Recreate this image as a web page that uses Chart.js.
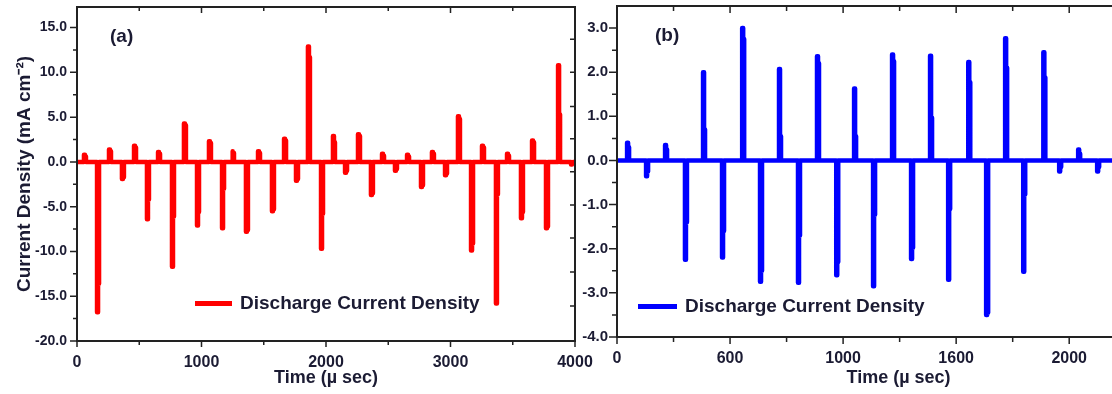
<!DOCTYPE html>
<html>
<head>
<meta charset="utf-8">
<script src="https://cdn.jsdelivr.net/npm/chart.js@4.4.1/dist/chart.umd.min.js"></script>
<style>
  html, body { margin: 0; padding: 0; width: 1112px; height: 394px; overflow: hidden; background: #fff; }
  body { position: relative; font-family: "Liberation Sans", Arial, sans-serif; }
  canvas { position: absolute; top: 0; }
  #chartA { left: 0; }
  #chartB { left: 580px; }
  .tag { position: absolute; font-weight: bold; font-size: 19px; line-height: 22px; color: #1b1b33; }
  .legend { position: absolute; display: flex; align-items: center; font-weight: bold; font-size: 19px; line-height: 22px; color: #1b1b33; white-space: nowrap; }
  .legend .swatch { display: inline-block; height: 5px; margin-right: 8px; }
</style>
</head>
<body>
<canvas id="chartA" width="600" height="394"></canvas>
<canvas id="chartB" width="640" height="394"></canvas>

<div class="tag" style="left:110px; top:25px;">(a)</div>
<div class="tag" style="left:655px; top:24px;">(b)</div>

<div class="legend" style="left:195px; top:292px;">
  <span class="swatch" style="width:37px; background:#ff0000;"></span>Discharge Current Density
</div>
<div class="legend" style="left:638px; top:295px;">
  <span class="swatch" style="width:39px; background:#0000ff;"></span>Discharge Current Density
</div>

<script>
// ---- panel (a) : spikes (time in µs, value in mA cm-2) ----
const upTimesA = [64, 265, 466, 659, 867, 1068, 1253, 1462, 1671, 1863, 2064, 2265, 2458, 2659, 2859, 3068, 3261, 3462, 3663, 3872];
const upPeaksA = [0.8, 1.4, 1.8, 1.1, 4.3, 2.3, 1.2, 1.2, 2.6, 12.9, 2.9, 3.1, 0.9, 0.8, 1.1, 5.1, 1.8, 0.9, 2.4, 10.8];
const upStepsA = [0.6, 1.2, 1.6, 0.9, 4.1, 2.1, 1.0, 1.0, 2.4, 11.7, 2.2, 2.9, 0.7, 0.6, 0.9, 4.8, 1.6, 0.7, 2.2, 5.3];
const downTimesA = [169, 369, 570, 771, 972, 1173, 1365, 1574, 1767, 1968, 2161, 2369, 2562, 2771, 2964, 3173, 3373, 3574, 3775, 3976];
const downPeaksA = [-16.8, -1.9, -6.4, -11.7, -7.1, -7.4, -7.8, -5.5, -2.1, -9.7, -1.2, -3.7, -1.0, -2.8, -1.5, -9.9, -15.8, -6.3, -7.4, -0.3];
const downStepsA = [-13.6, -1.7, -4.2, -6.1, -5.6, -3.0, -7.6, -5.3, -1.9, -5.8, -1.0, -3.5, -0.8, -2.6, -1.3, -9.1, -3.6, -5.6, -7.2, -0.2];

const xTicksA = [0, 1000, 2000, 3000, 4000];
const xMinorA = [500, 1500, 2500, 3500];
const yTicksA = [-20, -15, -10, -5, 0, 5, 10, 15];
const yMinorA = [-17.5, -12.5, -7.5, -2.5, 2.5, 7.5, 12.5];
const yRightA = [13.7, 10, 6.2, 2.6, -1.1, -4.8, -8.5, -12.3, -16.1];

// ---- panel (b) ----
const upTimesB = [49, 217, 385, 558, 721, 889, 1053, 1221, 1389, 1558, 1721, 1890, 2044];
const upPeaksB = [0.4, 0.35, 2.0, 3.0, 2.07, 2.36, 1.63, 2.4, 2.37, 2.23, 2.77, 2.45, 0.25];
const upStepsB = [0.3, 0.25, 0.7, 2.75, 0.55, 2.2, 0.55, 2.25, 0.97, 1.77, 2.1, 1.88, 0.15];
const downTimesB = [133, 305, 469, 637, 805, 974, 1137, 1305, 1469, 1637, 1801, 1960, 2128];
const downPeaksB = [-0.36, -2.25, -2.2, -2.75, -2.77, -2.6, -2.85, -2.23, -2.7, -3.5, -2.52, -0.25, -0.25];
const downStepsB = [-0.25, -1.4, -1.6, -2.5, -1.7, -2.3, -1.23, -1.98, -1.1, -3.45, -0.77, -0.15, -0.15];

const xTicksB = [0, 500, 1000, 1500, 2000];
const xLabelsB = ["0", "600", "1000", "1600", "2000"];
const xMinorB = [250, 750, 1250, 1750, 2250];
const yTicksB = [-4, -3, -2, -1, 0, 1, 2, 3];
const yMinorB = [-3.5, -2.5, -1.5, -0.5, 0.5, 1.5, 2.5];

const INK = "#1b1b33";
const FRAME = "#222222";

// line through the zero baseline with a narrow spike at each event
function buildSeries(times, peaks, steps, halfWidth, tEnd) {
  const spikes = times.map((t, i) => ({ t: t, peak: peaks[i], step: steps[i] }));
  spikes.sort((p, q) => p.t - q.t);
  const pts = [{ x: 0, y: 0 }];
  spikes.forEach((s) => {
    pts.push({ x: s.t - halfWidth, y: 0 });
    pts.push({ x: s.t - halfWidth, y: s.peak });
    pts.push({ x: s.t, y: s.peak });
    pts.push({ x: s.t, y: s.step });
    pts.push({ x: s.t + halfWidth, y: s.step });
    pts.push({ x: s.t + halfWidth, y: 0 });
  });
  pts.push({ x: tEnd, y: 0 });
  return pts;
}

// box frame + tick marks (outward on left/bottom, inward on top/right)
function frameTicks(t) {
  return {
    id: "frameTicks",
    afterDraw(chart) {
      const { ctx, chartArea: a, scales } = chart;
      const x = scales.x, y = scales.y;
      ctx.save();
      ctx.strokeStyle = FRAME;
      ctx.lineWidth = 2;
      ctx.strokeRect(a.left, a.top, a.right - a.left, a.bottom - a.top);
      ctx.lineWidth = 1.5;
      ctx.beginPath();
      const mark = (x0, y0, x1, y1) => { ctx.moveTo(x0, y0); ctx.lineTo(x1, y1); };
      t.xMajor.forEach((v) => {
        const p = x.getPixelForValue(v);
        mark(p, a.bottom, p, a.bottom + t.out);
        mark(p, a.top, p, a.top + t.in);
      });
      t.xMinor.forEach((v) => {
        const p = x.getPixelForValue(v);
        mark(p, a.bottom, p, a.bottom + t.out - 2);
        mark(p, a.top, p, a.top + t.in - 2);
      });
      t.yMajor.forEach((v) => {
        const p = y.getPixelForValue(v);
        mark(a.left, p, a.left - t.out - 1, p);
      });
      t.yMinor.forEach((v) => {
        const p = y.getPixelForValue(v);
        mark(a.left, p, a.left - t.out + 2, p);
      });
      t.yRight.forEach((v) => {
        const p = y.getPixelForValue(v);
        mark(a.right, p, a.right - 5, p);
      });
      ctx.stroke();
      ctx.restore();
    },
  };
}

function makeChart(id, o) {
  return new Chart(document.getElementById(id), {
    type: "line",
    data: {
      datasets: [
        {
          label: "Discharge Current Density",
          data: o.points,
          borderColor: o.color,
          borderWidth: 4.5,
          borderJoinStyle: "round",
          pointRadius: 0,
          tension: 0,
        },
      ],
    },
    options: {
      responsive: false,
      devicePixelRatio: 1,
      animation: false,
      events: [],
      layout: { padding: { top: o.top, right: o.right, left: 0, bottom: 0 } },
      plugins: { legend: { display: false }, tooltip: { enabled: false } },
      scales: {
        x: {
          type: "linear",
          min: o.xMin,
          max: o.xMax,
          afterBuildTicks: (s) => { s.ticks = o.xTicks.map((v) => ({ value: v })); },
          afterFit: (s) => { s.height = 394 - o.bottom; },
          // tick marks come from the frame plugin; tickLength only spaces the labels
          grid: { display: false, drawTicks: true, tickLength: 12 },
          border: { display: false },
          ticks: {
            autoSkip: false,
            maxRotation: 0,
            padding: 0,
            color: INK,
            font: { family: "Liberation Sans", size: 16, weight: "bold" },
            callback: (v, i) => o.xLabels[i],
          },
          title: {
            display: true,
            text: "Time (µ sec)",
            color: INK,
            font: { family: "Liberation Sans", size: 18, weight: "bold" },
            padding: { top: 0, bottom: 5 },
          },
        },
        y: {
          type: "linear",
          min: o.yMin,
          max: o.yMax,
          afterBuildTicks: (s) => { s.ticks = o.yTicks.map((v) => ({ value: v })); },
          afterFit: (s) => { s.width = o.left; },
          grid: { display: false, drawTicks: true, tickLength: o.yPad },
          border: { display: false },
          ticks: {
            autoSkip: false,
            padding: 0,
            color: INK,
            font: { family: "Liberation Sans", size: o.yFont, weight: "bold", lineHeight: 0.8 },
            callback: (v) => v.toFixed(1),
          },
          title: {
            display: !!o.yTitle,
            text: o.yTitle || "",
            color: INK,
            font: { family: "Liberation Sans", size: 19, weight: "bold" },
            padding: { top: 13, bottom: 0 },
          },
        },
      },
    },
    plugins: [frameTicks(o.marks)],
  });
}

makeChart("chartA", {
  points: buildSeries(upTimesA.concat(downTimesA), upPeaksA.concat(downPeaksA), upStepsA.concat(downStepsA), 8, 4000),
  color: "#ff0000",
  xMin: 0, xMax: 4000, yMin: -20, yMax: 17.3,
  xTicks: xTicksA, xLabels: xTicksA.map(String), yTicks: yTicksA,
  top: 7, right: 25, bottom: 341, left: 77,
  yPad: 10, yFont: 14,
  yTitle: "Current Density (mA cm⁻²)",
  marks: { xMajor: xTicksA, xMinor: xMinorA, yMajor: yTicksA, yMinor: yMinorA, yRight: yRightA, out: 6, in: 6 },
});

makeChart("chartB", {
  points: buildSeries(upTimesB.concat(downTimesB), upPeaksB.concat(downPeaksB), upStepsB.concat(downStepsB), 4.4, 2490),
  color: "#0000ff",
  xMin: 0, xMax: 2490, yMin: -4, yMax: 3.5,
  xTicks: xTicksB, xLabels: xLabelsB, yTicks: yTicksB,
  top: 6, right: 40, bottom: 337, left: 37,
  yPad: 9, yFont: 15,
  yTitle: "",
  marks: { xMajor: xTicksB, xMinor: xMinorB, yMajor: yTicksB, yMinor: yMinorB, yRight: [], out: 7, in: 7 },
});
</script>
</body>
</html>
